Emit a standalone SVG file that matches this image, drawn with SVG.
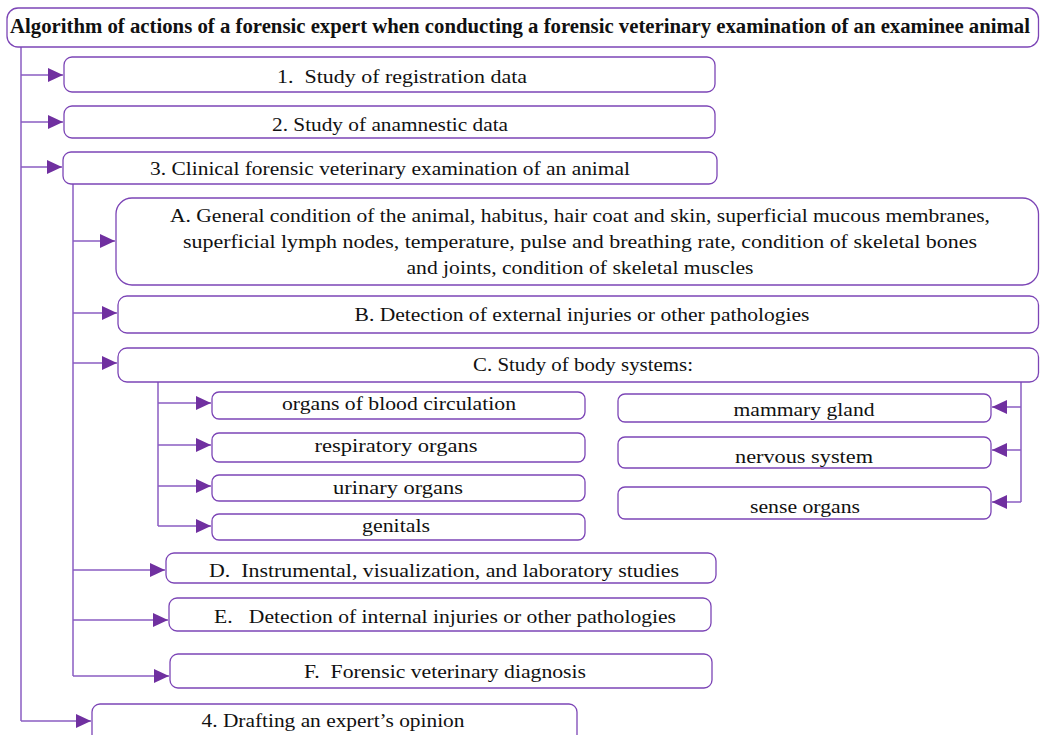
<svg xmlns="http://www.w3.org/2000/svg" width="1040" height="735" viewBox="0 0 1040 735">
<style>
.box{fill:#fff;stroke:#7C45B6;stroke-width:1.3}
.t{font-family:"Liberation Serif","DejaVu Serif",serif;font-size:19px;fill:#111;text-anchor:middle;white-space:pre}
.title{font-family:"Liberation Serif","DejaVu Serif",serif;font-size:20px;font-weight:bold;fill:#111;text-anchor:middle}
.ln{fill:none;stroke:#8A5CC2;stroke-width:1.5}
</style>
<defs>
<marker id="ah" markerUnits="userSpaceOnUse" markerWidth="16" markerHeight="14" refX="15" refY="7" orient="auto">
<path d="M0,0 L15,7 L0,14 z" fill="#7030A0"/>
</marker>
</defs>
<rect width="1040" height="735" fill="#fff"/>
<g id="connectors">
<path class="ln" d="M21,47 V721"/>
<path class="ln" d="M21,75 H63" marker-end="url(#ah)"/>
<path class="ln" d="M21,122 H63" marker-end="url(#ah)"/>
<path class="ln" d="M21,167 H62" marker-end="url(#ah)"/>
<path class="ln" d="M21,721 H91" marker-end="url(#ah)"/>
<path class="ln" d="M73,184 V676"/>
<path class="ln" d="M73,241 H115" marker-end="url(#ah)"/>
<path class="ln" d="M73,313 H117" marker-end="url(#ah)"/>
<path class="ln" d="M73,363 H117" marker-end="url(#ah)"/>
<path class="ln" d="M73,570 H165" marker-end="url(#ah)"/>
<path class="ln" d="M73,620 H168" marker-end="url(#ah)"/>
<path class="ln" d="M73,676 H169" marker-end="url(#ah)"/>
<path class="ln" d="M158,382 V526"/>
<path class="ln" d="M158,403 H211" marker-end="url(#ah)"/>
<path class="ln" d="M158,445 H211" marker-end="url(#ah)"/>
<path class="ln" d="M158,486 H211" marker-end="url(#ah)"/>
<path class="ln" d="M158,526 H211" marker-end="url(#ah)"/>
<path class="ln" d="M1021,382 V502"/>
<path class="ln" d="M1021,407 H992" marker-end="url(#ah)"/>
<path class="ln" d="M1021,450 H992" marker-end="url(#ah)"/>
<path class="ln" d="M1021,502 H992" marker-end="url(#ah)"/>
</g>
<g id="title"><rect class="box" x="7" y="8" width="1031.5" height="39" rx="11"/>
<text class="title" x="520" y="33" textLength="1020" lengthAdjust="spacingAndGlyphs">Algorithm of actions of a forensic expert when conducting a forensic veterinary examination of an examinee animal</text></g>
<g id="n1"><rect class="box" x="64" y="57" width="651" height="35" rx="8"/>
<text class="t" x="402" y="83" textLength="250" lengthAdjust="spacingAndGlyphs">1.  Study of registration data</text></g>
<g id="n2"><rect class="box" x="64" y="106" width="651" height="32" rx="8"/>
<text class="t" x="390" y="131" textLength="236" lengthAdjust="spacingAndGlyphs">2. Study of anamnestic data</text></g>
<g id="n3"><rect class="box" x="63" y="152" width="654" height="32" rx="8"/>
<text class="t" x="390" y="175" textLength="480" lengthAdjust="spacingAndGlyphs">3. Clinical forensic veterinary examination of an animal</text></g>
<g id="nA"><rect class="box" x="116" y="198" width="922.5" height="87" rx="16"/>
<text class="t" x="580" y="222" textLength="820" lengthAdjust="spacingAndGlyphs">A. General condition of the animal, habitus, hair coat and skin, superficial mucous membranes,</text>
<text class="t" x="580" y="248" textLength="794" lengthAdjust="spacingAndGlyphs">superficial lymph nodes, temperature, pulse and breathing rate, condition of skeletal bones</text>
<text class="t" x="580" y="274" textLength="347" lengthAdjust="spacingAndGlyphs">and joints, condition of skeletal muscles</text></g>
<g id="nB"><rect class="box" x="118" y="296" width="920.5" height="37" rx="9"/>
<text class="t" x="582" y="321" textLength="455" lengthAdjust="spacingAndGlyphs">B. Detection of external injuries or other pathologies</text></g>
<g id="nC"><rect class="box" x="118" y="348" width="920.5" height="34" rx="9"/>
<text class="t" x="583" y="371" textLength="220" lengthAdjust="spacingAndGlyphs">C. Study of body systems:</text></g>
<g id="c1"><rect class="box" x="212" y="392" width="373" height="27" rx="7"/>
<text class="t" x="399" y="410" textLength="234" lengthAdjust="spacingAndGlyphs">organs of blood circulation</text></g>
<g id="c2"><rect class="box" x="212" y="433" width="373" height="29" rx="7"/>
<text class="t" x="396" y="452" textLength="163" lengthAdjust="spacingAndGlyphs">respiratory organs</text></g>
<g id="c3"><rect class="box" x="212" y="475" width="373" height="26" rx="7"/>
<text class="t" x="398" y="494" textLength="130" lengthAdjust="spacingAndGlyphs">urinary organs</text></g>
<g id="c4"><rect class="box" x="212" y="514" width="373" height="26" rx="7"/>
<text class="t" x="396" y="532" textLength="68" lengthAdjust="spacingAndGlyphs">genitals</text></g>
<g id="c5"><rect class="box" x="618" y="394" width="373" height="28" rx="7"/>
<text class="t" x="804" y="416" textLength="141" lengthAdjust="spacingAndGlyphs">mammary gland</text></g>
<g id="c6"><rect class="box" x="618" y="437" width="373" height="31" rx="7"/>
<text class="t" x="804" y="463" textLength="138" lengthAdjust="spacingAndGlyphs">nervous system</text></g>
<g id="c7"><rect class="box" x="618" y="487" width="373" height="32" rx="7"/>
<text class="t" x="805" y="513" textLength="110" lengthAdjust="spacingAndGlyphs">sense organs</text></g>
<g id="nD"><rect class="box" x="166" y="553" width="550" height="30" rx="8"/>
<text class="t" x="444" y="577" textLength="470" lengthAdjust="spacingAndGlyphs">D.  Instrumental, visualization, and laboratory studies</text></g>
<g id="nE"><rect class="box" x="169" y="598" width="542" height="33" rx="8"/>
<text class="t" x="445" y="623" textLength="462" lengthAdjust="spacingAndGlyphs">E.   Detection of internal injuries or other pathologies</text></g>
<g id="nF"><rect class="box" x="170" y="654" width="542" height="34" rx="8"/>
<text class="t" x="445" y="678" textLength="282" lengthAdjust="spacingAndGlyphs">F.  Forensic veterinary diagnosis</text></g>
<g id="n4"><rect class="box" x="92" y="704" width="485" height="40" rx="8"/>
<text class="t" x="333" y="727" textLength="263" lengthAdjust="spacingAndGlyphs">4. Drafting an expert’s opinion</text></g>
</svg>
